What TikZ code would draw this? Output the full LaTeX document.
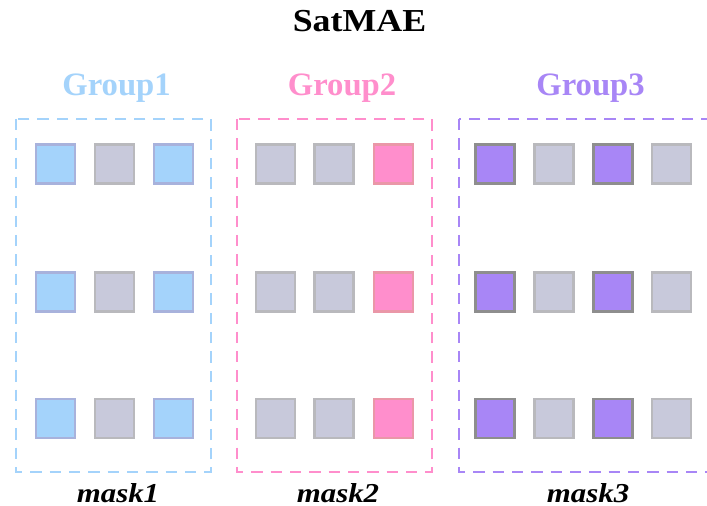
\documentclass[tikz,border=0pt]{standalone}
\usepackage{fontspec}
\setmainfont{Liberation Serif}
\begin{document}
\begin{tikzpicture}[x=0.75pt,y=-0.75pt,
  sq/.style={draw, line width=1.9pt, minimum width=29pt, minimum height=29.5pt, inner sep=0pt},
  blu/.style={sq, fill=cblue, draw=cblueb},
  gry/.style={sq, fill=cgray, draw=cgrayb},
  pnk/.style={sq, fill=cpink, draw=cpinkb},
  prp/.style={sq, fill=cpurple, draw=cpurpleb},
  grpbox/.style={line width=1.9pt, dash pattern=on 8.5pt off 6pt},
  glabel/.style={anchor=base, inner sep=0pt, font=\fontsize{24.5}{28}\selectfont\bfseries},
  mlabel/.style={anchor=base, inner sep=0pt, xscale=1.13, font=\fontsize{20.5}{24}\selectfont\bfseries\itshape},
]
\definecolor{cblue}{HTML}{A4D3FB}
\definecolor{cblueb}{HTML}{A8B2DC}
\definecolor{cgray}{HTML}{C8C9DB}
\definecolor{cgrayb}{HTML}{B9B9BD}
\definecolor{cpink}{HTML}{FF8ECC}
\definecolor{cpinkb}{HTML}{EA97A8}
\definecolor{cpurple}{HTML}{A886F6}
\definecolor{cpurpleb}{HTML}{8E8E8E}
\useasboundingbox (0,0) rectangle (707,506);
\clip (0,0) rectangle (707,506);
\fill[white] (0,0) rectangle (707,506);

\node[anchor=base, inner sep=0pt, xscale=1.12, font=\fontsize{24}{28}\selectfont\bfseries] (title) at (359.5,32) {SatMAE};

\node[glabel, text=cblue] (g1) at (116.5,96) {Group1};
\node[glabel, text=cpink] (g2) at (342,96) {Group2};
\node[glabel, text=cpurple] (g3) at (590.5,96) {Group3};

\draw[grpbox, draw=cblue] (16,119) rectangle (211,472);
\draw[grpbox, draw=cpink] (237,119) rectangle (432,472);
\draw[grpbox, draw=cpurple] (459,119) rectangle (716,472);

\foreach \r/\y in {1/164,2/292,3/418.5}{
  \node[blu] (a1\r) at (55.5,\y) {};
  \node[gry] (a2\r) at (114.5,\y) {};
  \node[blu] (a3\r) at (173.5,\y) {};
  \node[gry] (b1\r) at (275.5,\y) {};
  \node[gry] (b2\r) at (334,\y) {};
  \node[pnk] (b3\r) at (393.5,\y) {};
  \node[prp] (c1\r) at (495,\y) {};
  \node[gry] (c2\r) at (554,\y) {};
  \node[prp] (c3\r) at (613,\y) {};
  \node[gry] (c4\r) at (671.5,\y) {};
}

\node[mlabel] (m1) at (118,502) {mask1};
\node[mlabel] (m2) at (338,502) {mask2};
\node[mlabel] (m3) at (588,502) {mask3};
\end{tikzpicture}
\end{document}
